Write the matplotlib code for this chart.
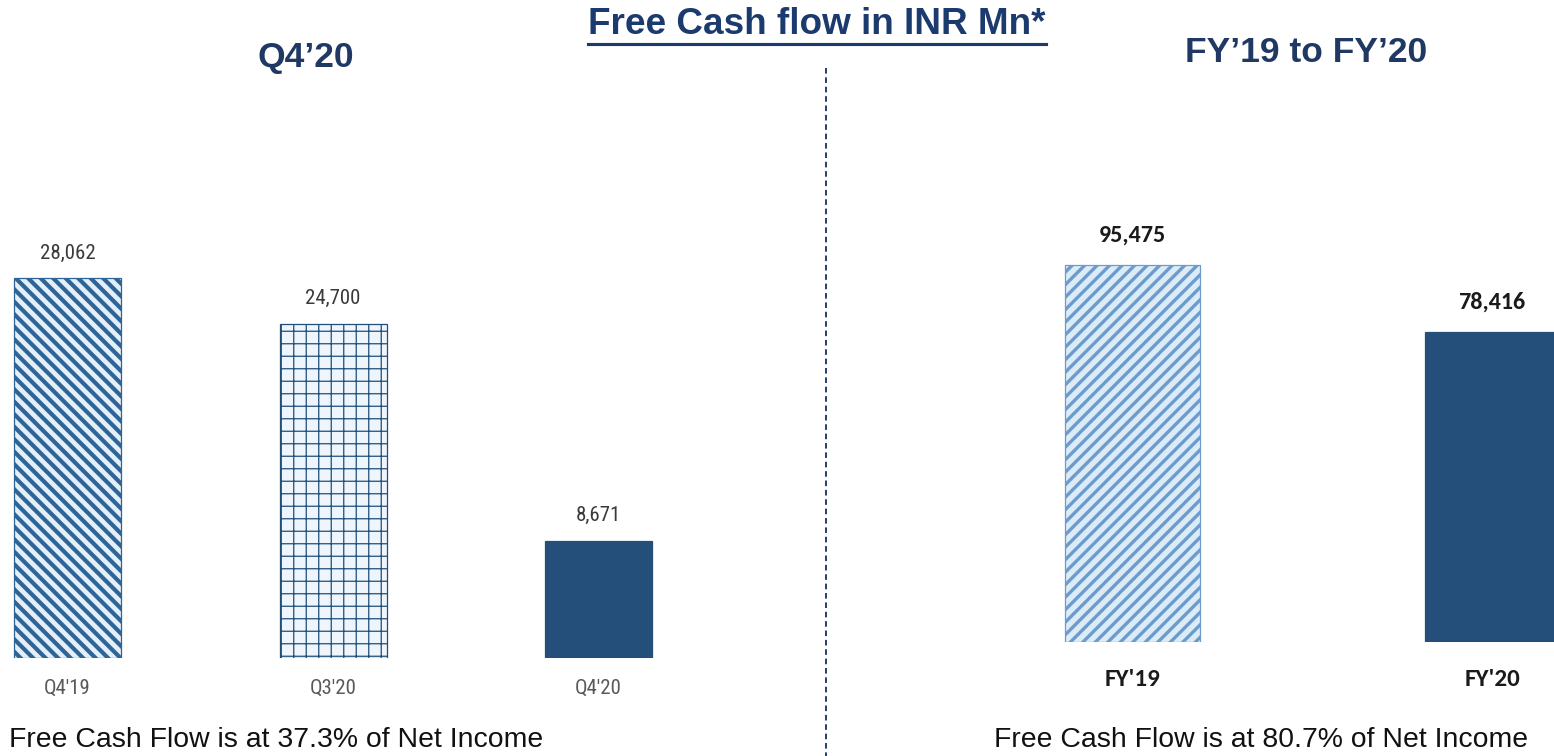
import matplotlib
matplotlib.use("Agg")
import matplotlib.pyplot as plt
from matplotlib import font_manager
from matplotlib.lines import Line2D

# =====================================
# DATA
# =====================================
quarters = ["Q4'19", "Q3'20", "Q4'20"]
quarter_fcf = [28062, 24700, 8671]
years = ["FY'19", "FY'20"]
year_fcf = [95475, 78416]

title = "Free Cash flow in INR Mn*"
left_title = "Q4\u201920"
right_title = "FY\u201919 to FY\u201920"
left_note = "Free Cash Flow is at 37.3% of Net Income"
right_note = "Free Cash Flow is at 80.7% of Net Income"

NAVY = "#1F3864"
DARK = "#234F7A"

W, H, DPI = 1554, 756, 150


def pick(*names):
    have = {f.name for f in font_manager.fontManager.ttflist}
    for n in names:
        if n in have:
            return n
    return "DejaVu Sans"


narrow = pick("Liberation Sans Narrow", "Roboto Condensed", "Liberation Sans")
arial = pick("Liberation Sans", "Arimo", "DejaVu Sans")
calibri = pick("Carlito", "Lato", "Open Sans")

fig = plt.figure(figsize=(W / DPI, H / DPI), dpi=DPI)
fig.patch.set_facecolor("white")


def px(v):
    # pixels -> points
    return v * 72 / DPI


# =====================================
# LEFT PANEL: QUARTERS
# =====================================
axl = fig.add_axes([0, 98 / H, 700 / W, 658 / H])
axl.set_xlim(-67.5 / 265.5, (700 - 67.5) / 265.5)
axl.set_ylim(0, 658 / 0.01354)
axl.axis("off")

styles_l = [
    dict(fc="#E3EFFA", ec="#2F6496", hatch="\\\\\\\\", hlw=2.0),
    dict(fc="#EEF5FC", ec="#1F4E79", hatch="++", hlw=0.6),
    dict(fc=DARK, ec=DARK, hatch=None, hlw=1.0),
]
for i, (q, v) in enumerate(zip(quarters, quarter_fcf)):
    st = styles_l[i]
    plt.rcParams["hatch.linewidth"] = st["hlw"]
    b = axl.bar(i, v, width=107 / 265.5, color=st["fc"], edgecolor=st["ec"],
                hatch=st["hatch"], linewidth=0.6)[0]
    if hasattr(b, "set_hatch_linewidth"):
        b.set_hatch_linewidth(st["hlw"])
    axl.annotate(f"{v:,}", xy=(i, v), xytext=(0, px(25)), textcoords="offset points",
                 ha="center", va="center", fontsize=10, color="#3A3A3A",
                 fontfamily=narrow)
    axl.annotate(q, xy=(i, 0), xytext=(0, px(-30)), textcoords="offset points",
                 ha="center", va="center", fontsize=10, color="#595959",
                 fontfamily=narrow)

# =====================================
# RIGHT PANEL: YEARS
# =====================================
axr = fig.add_axes([830 / W, 114 / H, 724 / W, 642 / H])
axr.set_xlim((830 - 1132.5) / 359.5, (1554 - 1132.5) / 359.5)
axr.set_ylim(0, 642 / 0.003949)
axr.axis("off")

styles_r = [
    dict(fc="#DCEBF8", ec="#6B9CCB", hatch="////", hlw=1.6),
    dict(fc=DARK, ec=DARK, hatch=None, hlw=1.0),
]
for i, (y, v) in enumerate(zip(years, year_fcf)):
    st = styles_r[i]
    plt.rcParams["hatch.linewidth"] = st["hlw"]
    b = axr.bar(i, v, width=135 / 359.5, color=st["fc"], edgecolor=st["ec"],
                hatch=st["hatch"], linewidth=0.6, clip_on=True)[0]
    if hasattr(b, "set_hatch_linewidth"):
        b.set_hatch_linewidth(st["hlw"])
    axr.annotate(f"{v:,}", xy=(i, v), xytext=(0, px(30)), textcoords="offset points",
                 ha="center", va="center", fontsize=11.5, color="#1A1A1A",
                 fontweight="bold", fontfamily=calibri)
    axr.annotate(y, xy=(i, 0), xytext=(0, px(-38)), textcoords="offset points",
                 ha="center", va="center", fontsize=12, color="#1A1A1A",
                 fontweight="bold", fontfamily=calibri)

# =====================================
# TITLES AND NOTES
# =====================================
t = fig.text(817 / W, 1 - 25 / H, title, ha="center", va="center", fontsize=17.7,
             fontweight="bold", color="#1B3A6E", fontfamily=arial)
fig.text(306 / W, 1 - 57 / H, left_title, ha="center", va="center", fontsize=17,
         fontweight="bold", color=NAVY, fontfamily=arial)
fig.text(1306 / W, 1 - 52 / H, right_title, ha="center", va="center", fontsize=17,
         fontweight="bold", color=NAVY, fontfamily=arial)
fig.text(276 / W, 1 - 740 / H, left_note, ha="center", va="center", fontsize=13.6,
         color="#111111", fontfamily=arial)
fig.text(1261 / W, 1 - 740 / H, right_note, ha="center", va="center", fontsize=13.6,
         color="#111111", fontfamily=arial)

# underline under main title
fig.canvas.draw()
bb = t.get_window_extent()
fig.add_artist(Line2D([bb.x0 / W, bb.x1 / W], [1 - 44 / H, 1 - 44 / H],
                      transform=fig.transFigure, color="#1B3A6E", lw=1.5))

# dashed divider
fig.add_artist(Line2D([826 / W, 826 / W], [1 - 68 / H, 0], transform=fig.transFigure,
                      color=NAVY, lw=0.9, linestyle=(0, (3, 2))))

fig.savefig("out.png", dpi=DPI, facecolor="white")
